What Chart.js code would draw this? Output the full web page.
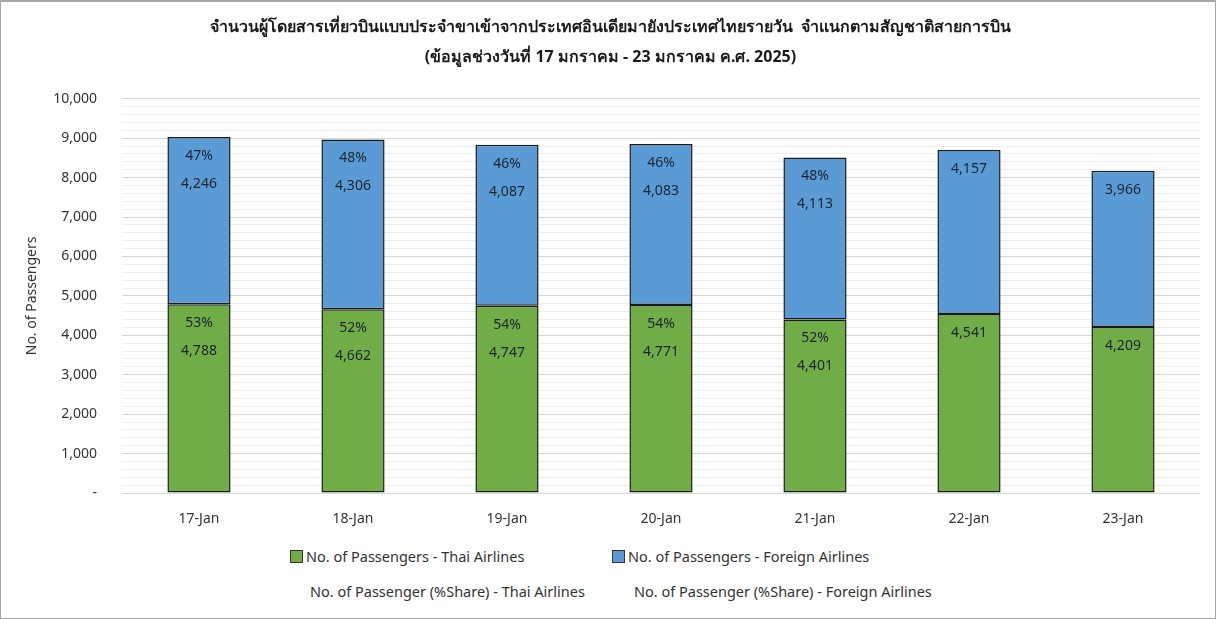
<!DOCTYPE html>
<html>
<head>
<meta charset="utf-8">
<script src="https://cdn.jsdelivr.net/npm/chart.js@4.4.1/dist/chart.umd.min.js"></script>
<style>
  html, body { margin: 0; padding: 0; background: #fff; }
  #frame { position: relative; width: 1216px; height: 619px; overflow: hidden; font-family: 'Noto Sans', 'DejaVu Sans', sans-serif; }
  #border { position: absolute; left: 0; top: 0; width: 1216px; height: 619px; box-sizing: border-box; border: 1px solid #a6a6a6; border-top-width: 2px; pointer-events: none; }
  #chart { position: absolute; left: 0; top: 0; }
  .lg { position: absolute; font-size: 14.5px; color: #333; white-space: nowrap; line-height: 18px; }
  .lg i { display: inline-block; width: 11px; height: 11px; border: 1px solid #333; margin-right: 3px; vertical-align: -1px; }
  .lg i.none { border-color: transparent; }
</style>
</head>
<body>
<div id="frame">
  <canvas id="chart" width="1216" height="540"></canvas>
  <div class="lg" style="left:290px; top:547px"><i style="background:#70AD47"></i>No. of Passengers - Thai Airlines</div>
  <div class="lg" style="left:612px; top:547px"><i style="background:#5B9BD5"></i>No. of Passengers - Foreign Airlines</div>
  <div class="lg" style="left:294px; top:582px"><i class="none"></i>No. of Passenger (%Share) - Thai Airlines</div>
  <div class="lg" style="left:618px; top:582px"><i class="none"></i>No. of Passenger (%Share) - Foreign Airlines</div>
  <div id="border"></div>
</div>
<script>
const days = ['17-Jan', '18-Jan', '19-Jan', '20-Jan', '21-Jan', '22-Jan', '23-Jan'];
const thaiPax = [4788, 4662, 4747, 4771, 4401, 4541, 4209];
const foreignPax = [4246, 4306, 4087, 4083, 4113, 4157, 3966];
const thaiShare = [53, 52, 54, 54, 52, null, null];
const foreignShare = [47, 48, 46, 46, 48, null, null];

const titleLines = [
  'จำนวนผู้โดยสารเที่ยวบินแบบประจำขาเข้าจากประเทศอินเดียมายังประเทศไทยรายวัน  จำแนกตามสัญชาติสายการบิน',
  '(ข้อมูลช่วงวันที่ 17 มกราคม - 23 มกราคม ค.ศ. 2025)'
];

const FONT = "'Noto Sans', 'DejaVu Sans', sans-serif";

function fmt(n){ return Number(n).toLocaleString('en-US'); }

// draws share % and value inside each stacked segment
const segLabels = {
  id: 'segLabels',
  afterDatasetsDraw(chart){
    const ctx = chart.ctx;
    const shares = [thaiShare, foreignShare];
    ctx.save();
    ctx.font = '14px ' + FONT;
    ctx.textAlign = 'center';
    ctx.textBaseline = 'middle';
    ctx.fillStyle = '#1c2430';
    [0, 1].forEach(di => {
      const meta = chart.getDatasetMeta(di);
      const vals = chart.data.datasets[di].data;
      meta.data.forEach((bar, i) => {
        const top = bar.y;
        const pct = shares[di][i];
        if (pct != null){
          ctx.fillText(pct + '%', bar.x, top + 19);
          ctx.fillText(fmt(vals[i]), bar.x, top + 47);
        } else {
          ctx.fillText(fmt(vals[i]), bar.x, top + 19);
        }
      });
    });
    ctx.restore();
  }
};

const cfg = {
  type: 'bar',
  data: {
    labels: days,
    datasets: [
      { label: 'No. of Passengers - Thai Airlines', data: thaiPax, backgroundColor: '#70AD47', borderColor: '#1a1a1a', borderWidth: 1.5, borderSkipped: false },
      { label: 'No. of Passengers - Foreign Airlines', data: foreignPax, backgroundColor: '#5B9BD5', borderColor: '#1a1a1a', borderWidth: 1.5, borderSkipped: false }
    ]
  },
  options: {
    responsive: false,
    animation: false,
    layout: { padding: { left: 21, right: 16, top: 0, bottom: 7 } },
    datasets: { bar: { categoryPercentage: 1, barPercentage: 0.41 } },
    scales: {
      x: {
        stacked: true,
        grid: { display: false, drawTicks: false },
        border: { display: false },
        ticks: { padding: 18, color: '#333', font: { size: 14, family: FONT } },
        afterFit(s){ s.height = 40; }
      },
      y: {
        stacked: true,
        min: 0, max: 10000,
        grid: {
          drawTicks: false,
          color: c => (c.tick && c.tick.value % 1000 === 0) ? '#d6d6d6' : '#eeeeee',
          lineWidth: 1
        },
        border: { display: false },
        ticks: {
          stepSize: 200,
          autoSkip: false,
          padding: 25,
          color: '#333',
          font: { size: 14, family: FONT },
          callback: v => v === 0 ? '-' : (v % 1000 === 0 ? fmt(v) : '')
        },
        title: { display: true, text: 'No. of Passengers', color: '#333', font: { size: 14, family: FONT }, padding: 3 },
        afterFit(s){ s.width = 101; }
      }
    },
    plugins: {
      legend: { display: false },
      tooltip: { enabled: false },
      title: {
        display: true,
        text: titleLines,
        color: '#1a1a1a',
        font: { size: 16, weight: 'bold', family: FONT, lineHeight: 1.9 },
        padding: { top: 12, bottom: 26 }
      }
    }
  },
  plugins: [segLabels]
};

// eslint-disable-next-line no-undef
new Chart(document.getElementById('chart').getContext('2d'), cfg);
</script>
</body>
</html>
